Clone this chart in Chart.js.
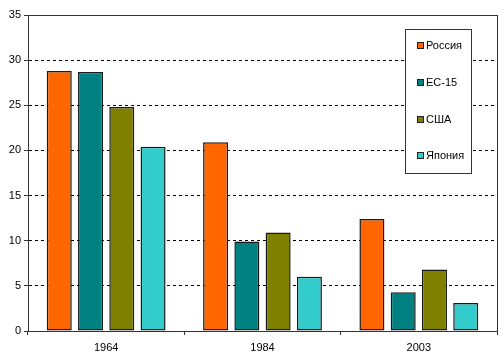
<!DOCTYPE html>
<html><head><meta charset="utf-8">
<script src="https://cdn.jsdelivr.net/npm/chart.js@4"></script>
<style>html,body{margin:0;padding:0;background:#fff}#w{width:503px;height:363px}</style>
</head><body><div id="w"><canvas id="c" width="503" height="363"></canvas></div>
<script>
const categories = ['1964', '1984', '2003'];
const seriesNames = ['Россия', 'ЕС-15', 'США', 'Япония'];
const russia = [28.8, 20.9, 12.4];
const eu15 = [28.7, 9.9, 4.3];
const usa = [24.8, 10.9, 6.8];
const japan = [20.4, 6.0, 3.1];
const yTicks = [0, 5, 10, 15, 20, 25, 30, 35];
const colors = ['#FF6600', '#008080', '#808000', '#33CCCC'];
const seriesData = [russia, eu15, usa, japan];

const FONT = {family: '"Liberation Sans", Arial, sans-serif', size: 11};

const frame = {
  id: 'frame',
  afterDatasetsDraw(chart) {
    const a = chart.chartArea, ctx = chart.ctx;
    ctx.save();
    ctx.strokeStyle = '#333';
    ctx.lineWidth = 1;
    ctx.strokeRect(Math.round(a.left) + 0.5, Math.round(a.top) + 0.5, Math.round(a.right - a.left), Math.round(a.bottom - a.top));
    // legend
    const lx = 405, ly = 29, lw = 66, lh = 144;
    ctx.fillStyle = '#fff';
    ctx.fillRect(lx, ly, lw, lh);
    ctx.strokeRect(lx + 0.5, ly + 0.5, lw, lh);
    const ys = [45, 82, 119, 155];
    ctx.font = '11px "Liberation Sans", Arial, sans-serif';
    ctx.textBaseline = 'middle';
    chart.data.datasets.forEach((ds, i) => {
      ctx.fillStyle = ds.backgroundColor;
      ctx.fillRect(417, ys[i] - 3, 7, 7);
      ctx.strokeStyle = '#222';
      ctx.strokeRect(417.5, ys[i] - 2.5, 6, 6);
      ctx.fillStyle = '#000';
      ctx.fillText(ds.label, 426, ys[i] + 0.5);
    });
    ctx.restore();
  }
};

new Chart(document.getElementById('c'), {
  type: 'bar',
  data: {
    labels: categories,
    datasets: seriesNames.map((n, i) => ({
      label: n, data: seriesData[i], backgroundColor: colors[i],
      borderColor: '#1a1a1a', borderWidth: 1.5, borderSkipped: false,
      barPercentage: 0.8, categoryPercentage: 0.8
    }))
  },
  options: {
    responsive: false, animation: false,
    layout: {padding: {top: 15, right: 6, left: 0, bottom: 0}},
    plugins: {legend: {display: false}, tooltip: {enabled: false}},
    scales: {
      x: {
        offset: true,
        grid: {display: true, drawOnChartArea: false, tickLength: 4, tickColor: '#333', offset: true},
        border: {display: true, color: '#333'},
        ticks: {color: '#000', font: FONT, padding: 6},
        afterFit(s) { s.height = 32; }
      },
      y: {
        min: 0, max: 35,
        afterBuildTicks(s) { s.ticks = yTicks.map(v => ({value: v})); },
        grid: {
          color: ctx => (ctx.tick && (ctx.tick.value === 0 || ctx.tick.value === 35)) ? 'rgba(0,0,0,0)' : '#000',
          tickColor: '#333', tickLength: 4, tickBorderDash: [], lineWidth: 1
        },
        border: {display: true, color: '#333', dash: [3, 3]},
        ticks: {color: '#000', font: FONT, padding: 3},
        afterFit(s) { s.width = 28; }
      }
    }
  },
  plugins: [frame]
});
</script>
</body></html>
